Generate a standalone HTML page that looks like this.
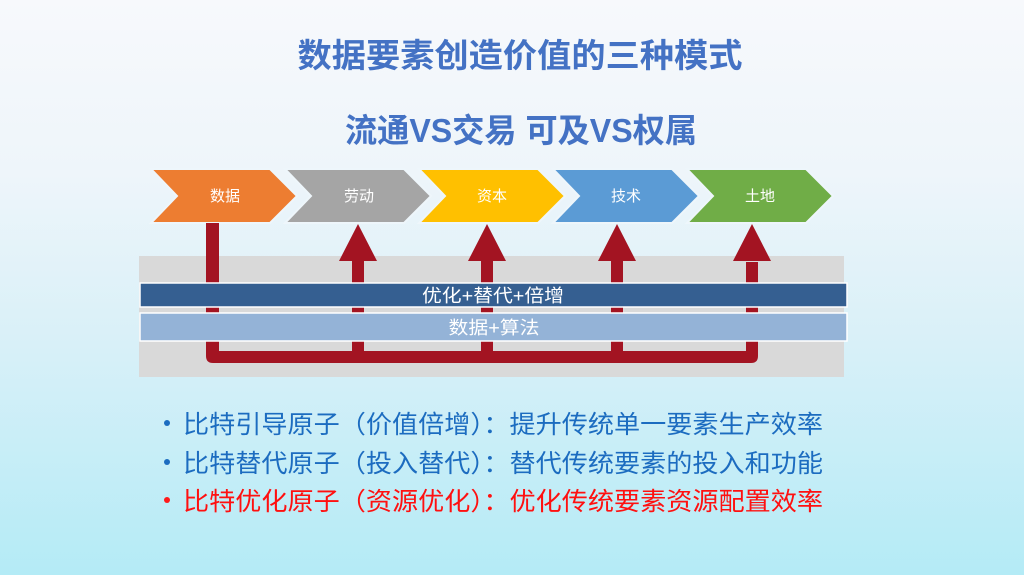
<!DOCTYPE html>
<html><head><meta charset="utf-8">
<style>
html,body{margin:0;padding:0;}
body{width:1024px;height:575px;overflow:hidden;background:linear-gradient(180deg,#f7f9fc 0%,#eef5fa 30%,#d8f0f8 60%,#b4ebf6 100%);}
svg{display:block;}
text{font-family:"Liberation Sans","Noto Sans CJK SC",sans-serif;}
</style></head>
<body>
<svg width="1024" height="575" viewBox="0 0 1024 575" xmlns="http://www.w3.org/2000/svg">
  <!-- titles -->
  <text x="520" y="67" text-anchor="middle" font-size="33" font-weight="bold" fill="#4472c4" textLength="445" lengthAdjust="spacingAndGlyphs">数据要素创造价值的三种模式</text>
  <text x="521" y="142" text-anchor="middle" font-size="33" font-weight="bold" fill="#4472c4" textLength="352" lengthAdjust="spacingAndGlyphs">流通VS交易 可及VS权属</text>

  <!-- gray band -->
  <rect x="139" y="256" width="705" height="121" fill="#d9d9d9"/>

  <!-- chevrons -->
  <g stroke="#eef6fb" stroke-width="2">
    <polygon points="151,169 270,169 297,196 270,223 151,223 177,196" fill="#ed7d31"/>
    <polygon points="285,169 404,169 431,196 404,223 285,223 311,196" fill="#a5a5a5"/>
    <polygon points="419,169 538,169 565,196 538,223 419,223 445,196" fill="#ffc000"/>
    <polygon points="553,169 672,169 699,196 672,223 553,223 579,196" fill="#5b9bd5"/>
    <polygon points="687,169 806,169 833,196 806,223 687,223 713,196" fill="#70ad47"/>
  </g>
  <g font-size="15" fill="#ffffff" text-anchor="middle">
    <text x="225" y="201">数据</text>
    <text x="359" y="201">劳动</text>
    <text x="492" y="201">资本</text>
    <text x="626" y="201">技术</text>
    <text x="760" y="201">土地</text>
  </g>

  <!-- red connector -->
  <path d="M206,223 L219,223 L219,351 L746,351 L746,262 L758,262 L758,356 Q758,363 751,363 L213,363 Q206,363 206,356 Z" fill="#a31422"/>
  <!-- arrows -->
  <g fill="#a31422">
    <rect x="352" y="258" width="12" height="95"/>
    <polygon points="358,224 377,261 339,261"/>
    <rect x="481" y="258" width="12" height="95"/>
    <polygon points="487,224 506,261 468,261"/>
    <rect x="611" y="258" width="12" height="95"/>
    <polygon points="617,224 636,261 598,261"/>
    <polygon points="752,224 771,261 733,261"/>
  </g>

  <!-- bars -->
  <rect x="140" y="283" width="707" height="24" fill="#355f91" stroke="#ffffff" stroke-width="1.5"/>
  <rect x="140" y="313" width="707" height="28" fill="#94b3d7" stroke="#ffffff" stroke-width="1.5"/>
  <text x="493" y="302" text-anchor="middle" font-size="18" fill="#ffffff" textLength="142" lengthAdjust="spacingAndGlyphs">优化+替代+倍增</text>
  <text x="494" y="334" text-anchor="middle" font-size="18" fill="#ffffff" textLength="91" lengthAdjust="spacingAndGlyphs">数据+算法</text>

  <!-- bullets -->
  <circle cx="167" cy="423" r="3" fill="#1c6cc0"/>
  <circle cx="167" cy="462" r="3" fill="#1c6cc0"/>
  <circle cx="167" cy="500" r="3" fill="#ff1a1a"/>
  <g font-size="25">
    <text x="183" y="433" fill="#1c6cc0" textLength="640" lengthAdjust="spacingAndGlyphs">比特引导原子（价值倍增）：提升传统单一要素生产效率</text>
    <text x="183" y="472" fill="#1c6cc0" textLength="640" lengthAdjust="spacingAndGlyphs">比特替代原子（投入替代）：替代传统要素的投入和功能</text>
    <text x="183" y="510" fill="#ff1010" textLength="640" lengthAdjust="spacingAndGlyphs">比特优化原子（资源优化）：优化传统要素资源配置效率</text>
  </g>
</svg>
</body></html>
